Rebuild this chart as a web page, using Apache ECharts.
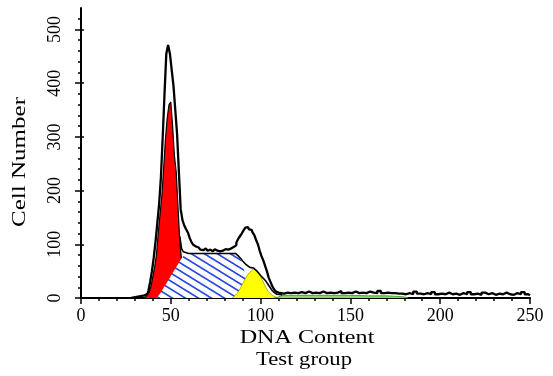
<!DOCTYPE html>
<html>
<head>
<meta charset="utf-8">
<script src="https://cdn.jsdelivr.net/npm/echarts@6/dist/echarts.min.js"></script>
<style>html,body{margin:0;padding:0;background:#fff}#c{width:553px;height:376px}</style>
</head>
<body>
<div id="c"></div>
<script>
// ---- raw histogram (channel, count) ----
const rawX = [28,29,30,31,32,33,34,35,36,37,38,39,40,41,42,43,44,45,46,47,48,49,50,51,52,53,54,55,56,57,58,59,60,61,62,63,64,65,66,67,68,69,70,71,72,73,74,75,76,77,78,79,80,81,82,83,84,85,86,87,88,89,90,91,92,93,94,95,96,97,98,99,100,101,102,103,104,105,106,107,108,109,110,111,112,
  114,116,118,120,122,124,126,128,130,132,134,136,138,140,142,144,146,148,150,152,154,156,158,160,162,164,166,168,170,172,174,176,178,180,182,184,186,188,190,192,194,196,198,200,202,204,206,208,210,212,214,216,218,220,222,224,226,228,230,232,234,236,238,240,242,244,246,248,250];
const rawY = [0,1,2,2,3,3,4,5,6,8,13,30,50,75,105,140,175,225,300,380,455,471,455,425,395,350,305,235,165,145,135,128,122,112,104,99,96,94,92,90,89,92,91,88,90,87,89,91,88,87,90,88,91,89,90,92,93,95,98,103,110,115,120,126,131,132,128,127,122,117,108,100,88,78,70,60,50,38,30,22,16,12,10,9,8,
  10,9,10,9,11,9,12,9,10,9,
  12,9,10,9,10,13,9,10,9,12,
  9,10,9,12,10,9,13,9,10,9,
  9,8,8,7,9,7,12,8,7,9,
  7,11,7,8,7,10,7,8,6,9,
  7,11,7,8,6,10,7,9,6,8,
  7,10,7,6,9,7,11,7,5];

// ---- G1 peak (red) ----
const g1X = [34,35,36,37,38,39,40,41,42,43,44,45,46,47,48,49,50,51,52,53,54,55,56,57,58,59,60,61,62,63];
const g1Y = [0,1,2,5,11,22,40,58,80,120,155,190,240,295,335,360,365,320,265,235,170,105,70,45,28,16,9,5,2,0];

// ---- S phase (hatched) ----
const sX = [42,44,46,48,50,52,54,56,58,60,70,80,86,87,88,89,90,91,92,94,96,98,100,102,104];
const sY = [0,8,19,30,41,52,63,74,82,83,83,83,83,81,76,70,60,50,42,30,20,12,6,2,0];

// ---- G2 peak (yellow) ----
const g2X = [84,85,86,87,88,89,90,91,92,93,94,95,96,97,98,99,100,101,102,103,104,105,106,107,108,109,110];
const g2Y = [0,2,5,9,14,20,27,33,39,44,48,51,54,54,51,46,40,33,26,19,13,9,6,4,2,1,0];

// ---- debris (green) ----
const dX = [108,110,112,116,120,130,140,150,160,170,176,180,182];
const dY = [0,2,5,5,5,5,5,5,4,4,3,2,0];

// ---- model fit line ----
const fitX = [55,56,57,58,60,70,80,86,87,88,89,90,91,92,93,94,95,96,97,98,99,100,101,102,103,104,105,106,107,108,109,110,112];
const fitY = [115,92,86,84,83,83,83,83,81,77,73,69,66,62,59,57,56,56,54,50,46,42,39,35,31,26,21,16,12,9,7,6,6];

// ---- axis ticks ----
const yMajor = [0,100,200,300,400,500];
const yMinor = [20,40,60,80,120,140,160,180,220,240,260,280,320,340,360,380,420,440,460,480,520];
const xTitle = 'DNA Content';
const yTitle = 'Cell Number';
const subTitle = 'Test group';

function pairs(xs, ys){ return xs.map((x,i)=>[x, ys[i]]); }

// hatch pattern
const pc = document.createElement('canvas');
pc.width = 13; pc.height = 8;
const pctx = pc.getContext('2d');
pctx.fillStyle = '#fff'; pctx.fillRect(0,0,13,8);
pctx.strokeStyle = '#2448e0'; pctx.lineWidth = 1.6;
[-8,0,8].forEach(o=>{ pctx.beginPath(); pctx.moveTo(-13,-8+o); pctx.lineTo(26,16+o); pctx.stroke(); });

const chart = echarts.init(document.getElementById('c'), null, {renderer:'canvas'});
const serif = '"Liberation Serif", "Times New Roman", serif';
const tickStyle = {color:'#000',width:1.5};
chart.setOption({
  animation:false,
  backgroundColor:'#fff',
  grid:{left:81,right:23,top:8,bottom:78},
  xAxis:{type:'value',min:0,max:250,interval:50,
    axisLine:{lineStyle:{color:'#000',width:2}},
    axisTick:{length:6,lineStyle:tickStyle},
    minorTick:{show:true,splitNumber:5,length:3,lineStyle:tickStyle},
    splitLine:{show:false},minorSplitLine:{show:false},
    axisLabel:{fontFamily:serif,fontSize:18,color:'#000',margin:9}},
  yAxis:[
    {type:'value',min:0,max:540,
      axisLine:{show:true,lineStyle:{color:'#000',width:2}},
      axisTick:{show:true,length:6,customValues:yMajor,lineStyle:tickStyle},
      axisLabel:{customValues:yMajor,rotate:90,fontFamily:serif,fontSize:18,color:'#000',margin:17},
      splitLine:{show:false}},
    {type:'value',min:0,max:540,position:'left',offset:0,
      axisLine:{show:false},
      axisTick:{show:true,length:3,customValues:yMinor,lineStyle:tickStyle},
      axisLabel:{show:false},splitLine:{show:false}},
    {type:'value',min:0,max:540,position:'left',offset:0,
      axisLine:{show:false},
      axisTick:{show:true,inside:true,length:3,customValues:yMajor,lineStyle:tickStyle},
      axisLabel:{show:false},splitLine:{show:false}}
  ],
  series:[
    {type:'line',name:'G1',data:pairs(g1X,g1Y),symbol:'none',z:2,
      lineStyle:{color:'#000',width:1.2},areaStyle:{color:'#ff0000',opacity:1}},
    {type:'line',name:'S',data:pairs(sX,sY),symbol:'none',z:3,
      lineStyle:{width:0},areaStyle:{color:{image:pc,repeat:'repeat'},opacity:1}},
    {type:'line',name:'G2',data:pairs(g2X,g2Y),symbol:'none',z:4,
      lineStyle:{color:'#a0a000',width:0.8},areaStyle:{color:'#ffff00',opacity:1}},
    {type:'line',name:'Debris',data:pairs(dX,dY),symbol:'none',z:4,
      lineStyle:{color:'#4f9e3a',width:1},areaStyle:{color:'#8fd36e',opacity:1}},
    {type:'line',name:'Fit',data:pairs(fitX,fitY),symbol:'none',z:5,
      lineStyle:{color:'#000',width:1.6}},
    {type:'line',name:'Raw',data:pairs(rawX,rawY),symbol:'none',step:'middle',z:6,
      lineStyle:{color:'#000',width:2.3}}
  ],
  graphic:[
    {type:'text',x:307,y:338,scaleX:1.34,style:{text:xTitle,font:'18px '+serif,fill:'#000',align:'center',verticalAlign:'middle'}},
    {type:'text',x:304,y:360,scaleX:1.26,style:{text:subTitle,font:'18px '+serif,fill:'#000',align:'center',verticalAlign:'middle'}},
    {type:'text',x:20,y:162,rotation:Math.PI/2,scaleX:1.39,style:{text:yTitle,font:'18px '+serif,fill:'#000',align:'center',verticalAlign:'middle'}}
  ]
});
</script>
</body>
</html>
